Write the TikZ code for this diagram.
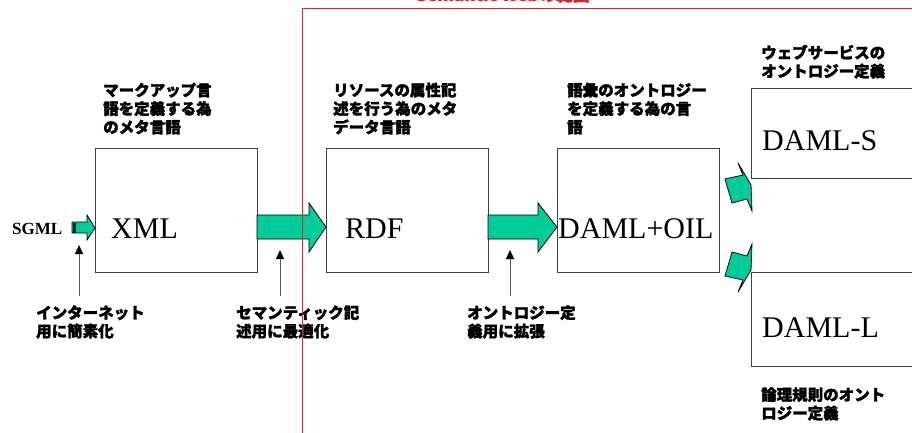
\documentclass[tikz,border=0pt]{standalone}
\usepackage{fontspec}
\setmainfont{Liberation Serif}
\newfontfamily\cjk[BoldFeatures={FakeBold=1.8}]{Noto Sans CJK JP}
\usetikzlibrary{arrows.meta}
\definecolor{arrowgreen}{RGB}{0,204,153}
\definecolor{framered}{RGB}{214,40,40}
\begin{document}
\begin{tikzpicture}[x=1pt,y=-1pt,
 box/.style={draw=black!75,line width=1pt,fill=white,inner sep=0,anchor=north west},
 lbl/.style={anchor=base west,inner sep=0,align=left,font=\cjk\bfseries\fontsize{15.5}{18.5}\selectfont},
 big/.style={anchor=base west,inner sep=0,font=\fontsize{30}{30}\selectfont},
 garrow/.style={fill=arrowgreen,draw=black,line width=0.8pt,line join=miter},
 pointer/.style={draw=black!65,line width=1pt,-{Triangle[length=9pt,width=8pt,color=black]}}]
\useasboundingbox (0,0) rectangle (912,433);
\clip (0,0) rectangle (912,433);

% boxes
\node[box,minimum width=162pt,minimum height=124pt] (xmlbox) at (95,148) {};
\node[box,minimum width=162pt,minimum height=124pt] (rdfbox) at (326,148) {};
\node[box,minimum width=162pt,minimum height=124pt] (oilbox) at (557,148) {};
\node[box,minimum width=180pt,minimum height=90pt] (dsbox) at (751,88) {};
\node[box,minimum width=180pt,minimum height=94pt] (dlbox) at (751,272) {};

% box texts
\node[big] (xml) at (111,238) {XML};
\node[big] (rdf) at (345,238) {RDF};
\node[big] (oil) at (558,238) {DAML+OIL};
\node[big] (dams) at (762,150) {DAML-S};
\node[big] (daml) at (762,337) {DAML-L};
\node[anchor=base west,inner sep=0,font=\bfseries\fontsize{17}{17}\selectfont] (sgml) at (12,234) {SGML};

% green arrows
\draw[garrow] (72,222) -- (87,222) -- (87,215) -- (95,228) -- (87,240) -- (87,233) -- (72,233) -- cycle;
\fill[black!80!arrowgreen] (72.5,222.5) rectangle (76,232.5);
\draw[garrow] (257,215) -- (309,215) -- (309,203) -- (326,227) -- (309,252) -- (309,239) -- (257,239) -- cycle;
\draw[garrow] (488,215) -- (538,215) -- (538,203) -- (557,227) -- (538,252) -- (538,239) -- (488,239) -- cycle;
\draw[garrow] (725,179) -- (743,175) -- (738,163) -- (751,185) -- (752,211) -- (747,199) -- (732,203) -- cycle;
\draw[garrow] (725,276) -- (743,280) -- (738,292) -- (751,270) -- (752,244) -- (747,256) -- (732,252) -- cycle;

% labels (anchor = baseline of last line)
\node[lbl] (l1) at (103,133) {マークアップ言\\語を定義する為\\のメタ言語};
\node[lbl] (l2) at (333,133) {リソースの属性記\\述を行う為のメタ\\データ言語};
\node[lbl] (l3) at (567,133) {語彙のオントロジー\\を定義する為の言\\語};
\node[lbl] (l4) at (761,77) {ウェブサービスの\\オントロジー定義};
\node[lbl] (l5) at (761,419) {論理規則のオント\\ロジー定義};
\node[lbl] (l6) at (36,337) {インターネット\\用に簡素化};
\node[lbl] (l7) at (236,337) {セマンティック記\\述用に最適化};
\node[lbl] (l8) at (467,337) {オントロジー定\\義用に拡張};

% pointers
\coordinate (p1s) at (79,296); \coordinate (p1e) at (79,245);
\coordinate (p2s) at (280,296); \coordinate (p2e) at (280,250);
\coordinate (p3s) at (510,296); \coordinate (p3e) at (510,250);
\draw[pointer] (p1s) -- (p1e);
\draw[pointer] (p2s) -- (p2e);
\draw[pointer] (p3s) -- (p3e);

% red frame and title
\coordinate (fbl) at (302,434);
\coordinate (ftl) at (302,9);
\coordinate (ftr) at (913,9);
\draw[framered,line width=1pt] (fbl) -- (ftl) -- (ftr);
\node[anchor=base,inner sep=0,text=framered,font=\cjk\bfseries\fontsize{17}{17}\selectfont] (title) at (503,1) {Semantic Webの範囲};
\end{tikzpicture}
\end{document}
